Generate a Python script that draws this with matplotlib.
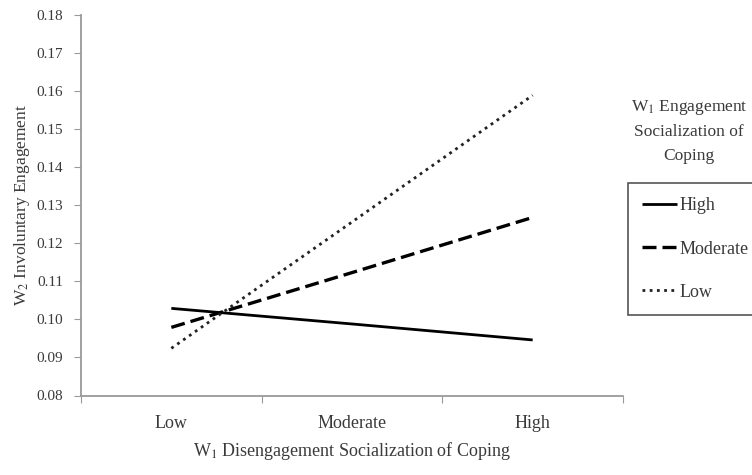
import matplotlib
matplotlib.use("Agg")
import matplotlib.pyplot as plt
from matplotlib.lines import Line2D

plt.rcParams['font.family'] = ['Liberation Serif', 'DejaVu Serif']
plt.rcParams['mathtext.fontset'] = 'stix'

categories = ["Low", "Moderate", "High"]
series_names = ["High", "Moderate", "Low"]
high_vals = [0.1029, 0.0988, 0.0946]
moderate_vals = [0.0979, 0.1123, 0.1268]
low_vals = [0.0924, 0.1256, 0.1589]
yticks = [0.08, 0.09, 0.10, 0.11, 0.12, 0.13, 0.14, 0.15, 0.16, 0.17, 0.18]

txt = '#3a3a3a'
fig = plt.figure(figsize=(7.52, 4.75), dpi=100)
ax = fig.add_axes([81/752, 1-395.5/475, 542/752, 380.5/475])

x = list(range(len(categories)))
l1, = ax.plot(x, high_vals, color='black', lw=2.0, solid_capstyle='butt')
l2, = ax.plot(x, moderate_vals, color='black', lw=2.4, linestyle=(0, (4.2, 1.8)))
l3, = ax.plot(x, low_vals, color='#222222', lw=2.0, linestyle=(0, (1.0, 1.6)))

ax.set_xlim(-0.5, 2.5)
ax.set_ylim(0.08, 0.18)
ax.set_yticks(yticks)
ax.set_yticklabels([f"{v:.2f}" for v in yticks])
ax.set_xticks([-0.5, 0.5, 1.5, 2.5])
ax.set_xticklabels([])
ax.set_xticks(x, minor=True)
ax.set_xticklabels(categories, minor=True)
ax.tick_params(axis='x', which='minor', length=0, pad=14, labelsize=13, labelcolor=txt)
ax.tick_params(axis='x', which='major', length=5, direction='out', color='#9a9a9a')
ax.tick_params(axis='y', length=5, direction='out', color='#9a9a9a', labelsize=11, labelcolor=txt, pad=8)

for s in ['top', 'right']:
    ax.spines[s].set_visible(False)
for s in ['left', 'bottom']:
    ax.spines[s].set_color('#9a9a9a')
    ax.spines[s].set_linewidth(1.3)

ax.set_xlabel("W$_1$ Disengagement Socialization of Coping", fontsize=13, color=txt, labelpad=6)
ax.set_ylabel("W$_2$ Involuntary Engagement", fontsize=12.5, color=txt, labelpad=3)

fig.text(689/752, 1-131/475, "W$_1$ Engagement\nSocialization of\nCoping", ha='center', va='center',
         fontsize=12.5, color=txt, linespacing=1.65)

leg = fig.legend([l1, l2, l3], series_names, loc='upper left',
                 bbox_to_anchor=(628/752, 1-183/475), fontsize=13,
                 frameon=True, fancybox=False, edgecolor='#555555', framealpha=1,
                 handlelength=1.9, handletextpad=0.15, labelspacing=1.45,
                 borderpad=0.8, borderaxespad=0)
for t in leg.get_texts():
    t.set_color(txt)
leg.get_frame().set_linewidth(1.2)

fig.savefig("out.png", dpi=100)
